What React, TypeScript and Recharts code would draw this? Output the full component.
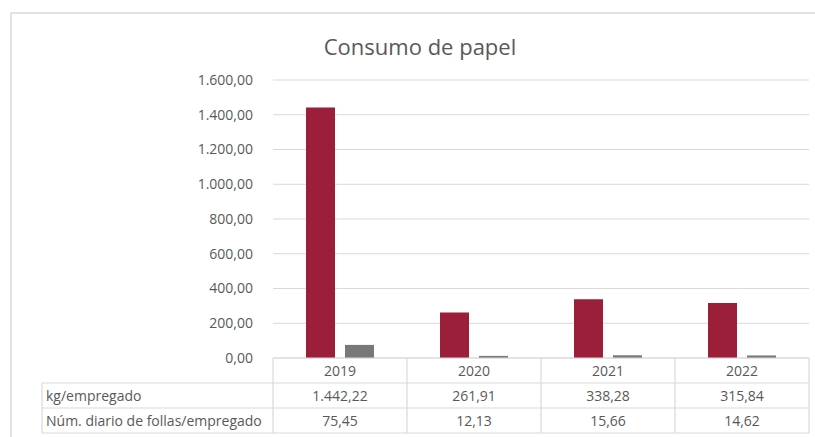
import React from 'react';
import { BarChart, Bar, XAxis, YAxis, CartesianGrid } from 'recharts';

const title = 'Consumo de papel';
const years = ['2019', '2020', '2021', '2022'];
const kgPerEmployee = [1442.22, 261.91, 338.28, 315.84];
const sheetsPerEmployee = [75.45, 12.13, 15.66, 14.62];
const seriesNames = ['kg/empregado', 'Núm. diario de follas/empregado'];
const yTicks = [0, 200, 400, 600, 800, 1000, 1200, 1400, 1600];

const data = years.map((y, i) => ({ year: y, kg: kgPerEmployee[i], sheets: sheetsPerEmployee[i] }));

const W = 815;
const H = 437;
const PLOT_LEFT = 273;
const PLOT_RIGHT = 809;
const PLOT_TOP = 80;
const PLOT_BOTTOM = 358;
const ROW_H = 25;
const TABLE_LEFT = 42;
const TEXT = '#595959';
const LINE = '#d9d9d9';
const FONT = '"Open Sans", "Noto Sans", sans-serif';

function fmt(v: number): string {
  const [intPart, dec] = v.toFixed(2).split('.');
  const withSep = intPart.replace(/\B(?=(\d{3})+(?!\d))/g, '.');
  return withSep + ',' + dec;
}

const TableTick = (props: any) => {
  const { x, payload } = props;
  const i = years.indexOf(payload.value);
  const common = { x, textAnchor: 'middle' as const, fill: TEXT, fontSize: 14, fontFamily: FONT };
  return (
    <g>
      <text {...common} y={PLOT_BOTTOM + 18}>{payload.value}</text>
      <text {...common} y={PLOT_BOTTOM + ROW_H + 18}>{fmt(kgPerEmployee[i])}</text>
      <text {...common} y={PLOT_BOTTOM + 2 * ROW_H + 18}>{fmt(sheetsPerEmployee[i])}</text>
    </g>
  );
};

export default function App() {
  const colW = (PLOT_RIGHT - PLOT_LEFT) / years.length;
  const vLines = years.map((_, i) => PLOT_LEFT + i * colW).concat([PLOT_RIGHT]);
  return (
    <div style={{ position: 'absolute', left: 0, top: 0, width: W, height: H, background: '#fff', overflow: 'hidden' }}>
      <div style={{ position: 'absolute', left: 10, top: 12, width: W, height: H, borderTop: `2px solid #e2e2e2`, borderLeft: `2px solid #e2e2e2` }} />
      <div style={{ position: 'absolute', left: 0, top: 0 }}>
        <BarChart
          width={W}
          height={H}
          data={data}
          margin={{ top: PLOT_TOP, right: W - PLOT_RIGHT, bottom: 0, left: 0 }}
          barSize={29}
          barGap={10}
        >
          <text x={420} y={55} textAnchor="middle" fill={TEXT} fontSize={22} fontFamily={FONT}>{title}</text>
          <CartesianGrid horizontal vertical={false} stroke={LINE} strokeWidth={1.2} />
          <YAxis
            width={PLOT_LEFT}
            domain={[0, 1600]}
            ticks={yTicks}
            interval={0}
            axisLine={false}
            tickLine={false}
            tickMargin={14}
            tickFormatter={(v: number) => fmt(v)}
            tick={{ fill: TEXT, fontSize: 14, fontFamily: FONT }}
          />
          <XAxis
            dataKey="year"
            height={H - PLOT_BOTTOM}
            axisLine={false}
            tickLine={false}
            interval={0}
            tick={<TableTick />}
          />
          <Bar dataKey="kg" name={seriesNames[0]} fill="#9c1f39" isAnimationActive={false} />
          <Bar dataKey="sheets" name={seriesNames[1]} fill="#787878" isAnimationActive={false} />
        </BarChart>
      </div>
      <svg width={W} height={H} style={{ position: 'absolute', left: 0, top: 0, pointerEvents: 'none' }}>
        {vLines.map((x, i) => (
          <line key={'v' + i} x1={x} x2={x} y1={PLOT_BOTTOM} y2={PLOT_BOTTOM + 3 * ROW_H} stroke={LINE} strokeWidth={1.2} />
        ))}
        <line x1={PLOT_LEFT} x2={PLOT_RIGHT} y1={PLOT_BOTTOM} y2={PLOT_BOTTOM} stroke={LINE} strokeWidth={1.2} />
        {[1, 2, 3].map((r) => (
          <line key={'h' + r} x1={TABLE_LEFT} x2={PLOT_RIGHT} y1={PLOT_BOTTOM + r * ROW_H} y2={PLOT_BOTTOM + r * ROW_H} stroke={LINE} strokeWidth={1.2} />
        ))}
        <line x1={TABLE_LEFT} x2={TABLE_LEFT} y1={PLOT_BOTTOM + ROW_H} y2={PLOT_BOTTOM + 3 * ROW_H} stroke={LINE} strokeWidth={1.2} />
        {seriesNames.map((n, i) => (
          <text key={n} x={TABLE_LEFT + 4} y={PLOT_BOTTOM + (i + 1) * ROW_H + 18} fill={TEXT} fontSize={14} fontFamily={FONT}>{n}</text>
        ))}
      </svg>
    </div>
  );
}
